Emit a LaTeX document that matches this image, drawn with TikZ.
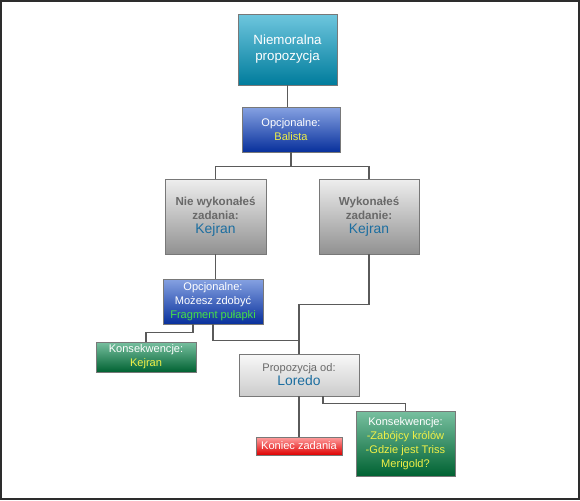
\documentclass[tikz,border=0pt]{standalone}
\usepackage{fontspec}
\setmainfont{Liberation Sans}
\definecolor{tealtop}{RGB}{110,198,222}
\definecolor{tealbot}{RGB}{0,124,156}
\definecolor{bluetop}{RGB}{134,162,226}
\definecolor{bluebot}{RGB}{8,48,156}
\definecolor{greytop}{RGB}{238,238,238}
\definecolor{greybot}{RGB}{145,145,145}
\definecolor{lgreytop}{RGB}{248,248,248}
\definecolor{lgreybot}{RGB}{204,204,204}
\definecolor{greentop}{RGB}{120,192,160}
\definecolor{greenbot}{RGB}{0,98,50}
\definecolor{redtop}{RGB}{255,160,160}
\definecolor{redbot}{RGB}{222,0,0}
\definecolor{edgegrey}{RGB}{120,120,120}
\definecolor{linegrey}{RGB}{90,90,90}
\definecolor{txtyellow}{RGB}{240,240,70}
\definecolor{txtgreen}{RGB}{70,225,70}
\definecolor{txtgrey}{RGB}{105,105,105}
\definecolor{txtblue}{RGB}{28,110,160}
\definecolor{framegrey}{RGB}{45,45,45}
\newcommand{\txtsmall}{\fontsize{8.3}{10.5}\selectfont}
\newcommand{\txtbig}{\fontsize{10.4}{12}\selectfont}
\newcommand{\txtbold}{\fontsize{8.7}{11}\selectfont\bfseries}
\begin{document}
\begin{tikzpicture}[
	x=0.75pt, y=-0.75pt,
	block/.style={
		rectangle,
		draw=edgegrey, line width=0.6pt,
		align=center, inner sep=0pt,
		font=\txtsmall, text=white
	},
	teal/.style={block, top color=tealtop, bottom color=tealbot},
	blue/.style={block, top color=bluetop, bottom color=bluebot},
	grey/.style={block, top color=greytop, bottom color=greybot, text=txtgrey},
	lgrey/.style={block, top color=lgreytop, bottom color=lgreybot, text=txtgrey},
	green/.style={block, top color=greentop, bottom color=greenbot},
	red/.style={block, top color=redtop, bottom color=redbot},
	line/.style={draw=linegrey, line width=0.8pt},
	]
	\useasboundingbox (0,0) rectangle (580,500);
	\draw [framegrey, line width=1.5pt] (1,1) rectangle (579,499);

	\node [teal, minimum width=74.25pt, minimum height=53.25pt, font=\fontsize{10}{12}\selectfont]
		(nm) at (287.5,49.5) {Niemoralna\\propozycja};
	\node [blue, minimum width=73.5pt, minimum height=33.75pt]
		(opt) at (291,129.5) {Opcjonalne:\\\textcolor{txtyellow}{Balista}};
	\node [grey, minimum width=75.75pt, minimum height=56.25pt]
		(nie) at (215.5,216.5) {\txtbold Nie wykonałeś\\\txtbold zadania:\\\txtbig\textcolor{txtblue}{Kejran}};
	\node [grey, minimum width=75pt, minimum height=56.25pt]
		(wyk) at (369,216.5) {\txtbold Wykonałeś\\\txtbold zadanie:\\\txtbig\textcolor{txtblue}{Kejran}};
	\node [blue, minimum width=75pt, minimum height=33.75pt]
		(frag) at (213,301.5) {Opcjonalne:\\Możesz zdobyć\\\textcolor{txtgreen}{Fragment pułapki}};
	\node [green, minimum width=75pt, minimum height=22.5pt]
		(kons) at (146,357) {Konsekwencje:\\\textcolor{txtyellow}{Kejran}};
	\node [lgrey, minimum width=90pt, minimum height=31.5pt]
		(prop) at (299,375) {Propozycja od:\\\txtbig\textcolor{txtblue}{Loredo}};
	\node [red, minimum width=64.5pt, minimum height=13.5pt]
		(end) at (299,446) {Koniec zadania};
	\node [green, minimum width=74.25pt, minimum height=48.75pt]
		(konsb) at (405.5,443.5) {Konsekwencje:\\\textcolor{txtyellow}{-Zabójcy królów}\\\textcolor{txtyellow}{-Gdzie jest Triss}\\\textcolor{txtyellow}{Merigold?}};

	\path [line] (nm.south) -- (nm.south |- opt.north);
	\path [line] (opt.south) -- ++(0,14) -| (nie.north);
	\path [line] (opt.south) -- ++(0,14) -| (wyk.north);
	\path [line] (nie.south) -- (nie.south |- frag.north);
	\path [line] (wyk.south) -- ++(0,50) -| (prop.north);
	\path [line] ([xshift=-15pt]frag.south) -- ++(0,8) -| (kons.north);
	\path [line] (frag.south) -- ++(0,16) -| (prop.north);
	\path [line] (prop.south) -- (end.north);
	\path [line] ([xshift=18pt]prop.south) -- ++(0,7) -| (konsb.north);
\end{tikzpicture}
\end{document}
